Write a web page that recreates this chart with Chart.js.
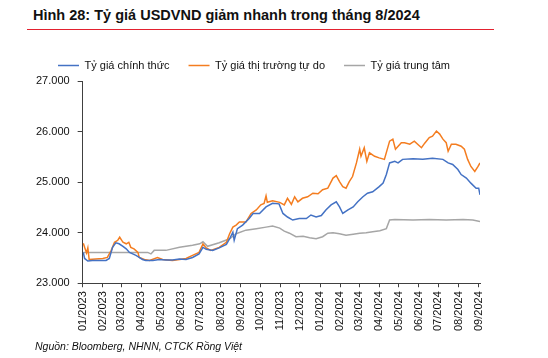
<!DOCTYPE html>
<html lang="vi">
<head>
<meta charset="utf-8">
<title>Tỷ giá USDVND</title>
<script src="https://cdn.jsdelivr.net/npm/chart.js@4.4.1/dist/chart.umd.min.js"></script>
<style>
body { margin:0; background:#fff; }
#khung { position:relative; width:548px; height:358px; overflow:hidden; font-family:'Liberation Sans', Arial, sans-serif; }
#tieude { position:absolute; left:27px; top:7px; width:467px; height:22px; border-bottom:1.5px solid #e3212f; }
#tieude span { position:absolute; left:6px; top:0px; font-size:14.5px; font-weight:bold; color:#111; white-space:nowrap; }
#nguon { position:absolute; left:35px; top:340px; font-size:10.5px; font-style:italic; color:#111; white-space:nowrap; }
canvas { position:absolute; left:0; top:0; }
</style>
</head>
<body>
<div id="khung">
	<div id="tieude"><span>Hình 28: Tỷ giá USDVND giảm nhanh trong tháng 8/2024</span></div>
	<canvas id="line-chart" width="548" height="358"></canvas>
	<div id="nguon">Nguồn: Bloomberg, NHNN, CTCK Rồng Việt</div>
</div>
<script>
// nhãn trục hoành
let nhanThang = ['01/2023','02/2023','03/2023','04/2023','05/2023','06/2023','07/2023','08/2023','09/2023','10/2023','11/2023','12/2023',
	'01/2024','02/2024','03/2024','04/2024','05/2024','06/2024','07/2024','08/2024','09/2024']
let nhanTruc = [23000, 24000, 25000, 26000, 27000]

// Tỷ giá chính thức
let ngayChinhThuc = ['2023-01-02','2023-01-04','2023-01-09','2023-01-16','2023-01-27','2023-02-06','2023-02-11','2023-02-16','2023-02-21','2023-02-26',
	'2023-03-04','2023-03-09','2023-03-14','2023-03-19','2023-03-24','2023-03-29','2023-04-03','2023-04-08','2023-04-19','2023-04-29',
	'2023-05-09','2023-05-19','2023-05-30','2023-06-09','2023-06-19','2023-06-29','2023-07-05','2023-07-10','2023-07-20','2023-07-30',
	'2023-08-10','2023-08-15','2023-08-20','2023-08-22','2023-08-27','2023-09-04','2023-09-14','2023-09-20','2023-09-30','2023-10-10',
	'2023-10-20','2023-10-30','2023-11-05','2023-11-12','2023-11-20','2023-11-30','2023-12-11','2023-12-18','2023-12-26','2024-01-03',
	'2024-01-10','2024-01-18','2024-01-26','2024-01-31','2024-02-05','2024-02-13','2024-02-21','2024-02-28','2024-03-07','2024-03-14',
	'2024-03-22','2024-04-01','2024-04-07','2024-04-12','2024-04-17','2024-04-25','2024-04-30','2024-05-07','2024-05-23','2024-06-07',
	'2024-06-22','2024-07-08','2024-07-16','2024-07-23','2024-07-31','2024-08-05','2024-08-13','2024-08-20','2024-08-28','2024-09-01','2024-09-03']
let chinhThuc = [23610,23490,23440,23450,23450,23450,23490,23710,23800,23780,
	23730,23680,23610,23580,23550,23510,23470,23450,23450,23470,
	23460,23460,23480,23470,23510,23580,23710,23670,23650,23700,
	23770,23880,24010,23850,24080,24150,24280,24380,24380,24510,
	24580,24570,24380,24310,24250,24280,24280,24350,24310,24340,
	24450,24550,24610,24510,24380,24450,24510,24610,24710,24780,
	24810,24910,24980,25150,25380,25410,25380,25450,25460,25450,
	25470,25450,25380,25350,25250,25150,25080,24980,24880,24880,24750]

// Tỷ giá thị trường tự do
let ngayTuDo = ['2023-01-02','2023-01-04','2023-01-07','2023-01-09','2023-01-11','2023-01-21','2023-02-01','2023-02-08','2023-02-14','2023-02-19',
	'2023-02-24','2023-02-27','2023-03-04','2023-03-09','2023-03-13','2023-03-16','2023-03-21','2023-03-27','2023-03-29','2023-04-06',
	'2023-04-14','2023-04-26','2023-05-04','2023-05-19','2023-05-30','2023-06-09','2023-06-19','2023-06-29','2023-07-05','2023-07-10',
	'2023-07-17','2023-07-30','2023-08-10','2023-08-15','2023-08-20','2023-08-25','2023-08-30','2023-09-09','2023-09-17','2023-09-25',
	'2023-10-02','2023-10-07','2023-10-10','2023-10-12','2023-10-20','2023-10-31','2023-11-07','2023-11-12','2023-11-18','2023-11-23',
	'2023-11-28','2023-12-05','2023-12-13','2023-12-21','2023-12-29','2024-01-05','2024-01-13','2024-01-21','2024-01-26','2024-01-31',
	'2024-02-05','2024-02-10','2024-02-15','2024-02-20','2024-02-26','2024-03-02','2024-03-04','2024-03-09','2024-03-13','2024-03-17',
	'2024-03-25','2024-04-01','2024-04-09','2024-04-17','2024-04-22','2024-04-26','2024-05-05','2024-05-10','2024-05-18','2024-05-25',
	'2024-06-05','2024-06-10','2024-06-17','2024-06-22','2024-06-28','2024-07-03','2024-07-08','2024-07-13','2024-07-16','2024-07-21',
	'2024-07-28','2024-08-05','2024-08-10','2024-08-15','2024-08-20','2024-08-26','2024-08-31','2024-09-03']
let tuDo = [23790,23710,23600,23700,23470,23480,23490,23510,23650,23810,
	23850,23910,23810,23780,23810,23710,23680,23610,23510,23470,
	23450,23510,23470,23450,23470,23490,23550,23610,23780,23700,
	23650,23710,23810,23980,24110,24150,24210,24210,24380,24450,
	24550,24580,24730,24600,24630,24600,24550,24680,24560,24710,
	24610,24680,24710,24780,24770,24850,24880,25080,25130,25010,
	24910,24880,25010,25110,25380,25650,25510,25680,25410,25580,
	25510,25480,25450,25810,25850,25650,25780,25780,25750,25810,
	25680,25770,25880,25910,26010,25950,25850,25780,25610,25750,
	25750,25710,25650,25450,25310,25210,25310,25380]

// Tỷ giá trung tâm
let ngayTrungTam = ['2023-01-02','2023-01-21','2023-02-10','2023-03-02','2023-03-22','2023-04-11','2023-04-16','2023-04-21','2023-05-09','2023-05-30',
	'2023-06-19','2023-06-30','2023-07-05','2023-07-12','2023-07-30','2023-08-15','2023-08-25','2023-09-09','2023-09-25','2023-10-10',
	'2023-10-20','2023-10-31','2023-11-07','2023-11-15','2023-11-25','2023-12-06','2023-12-16','2023-12-26','2024-01-05','2024-01-13',
	'2024-01-21','2024-01-31','2024-02-10','2024-02-21','2024-03-02','2024-03-12','2024-03-22','2024-04-02','2024-04-12','2024-04-17',
	'2024-04-25','2024-05-23','2024-06-17','2024-07-13','2024-08-08','2024-08-23','2024-09-03']
let trungTam = [23610,23610,23610,23610,23610,23610,23580,23650,23650,23710,
	23750,23780,23820,23730,23800,23880,23980,24050,24080,24110,
	24130,24090,24030,23990,23920,23930,23900,23880,23920,23990,
	24000,23980,23950,23970,23990,24000,24020,24040,24080,24250,
	24260,24250,24260,24250,24260,24250,24220]

let goc = Date.UTC(2023, 0, 1)
function soNgay(s){
	let p = s.split('-')
	return (Date.UTC(+p[0], +p[1]-1, +p[2]) - goc) / 86400000
}
function thangRaNgay(s){
	let p = s.split('/')
	return (Date.UTC(+p[1], +p[0]-1, 1) - goc) / 86400000
}
function ghep(ngay, giatri){
	return ngay.map((d, i) => ({x: soNgay(d), y: giatri[i]}))
}

let viTriThang = nhanThang.map(thangRaNgay)
let cuoi = soNgay(ngayChinhThuc[ngayChinhThuc.length-1])

function dinhDang(v){
	return String(v).replace(/\B(?=(\d{3})+(?!\d))/g, '.')
}

let chu = {family: "'Liberation Sans', Arial, sans-serif", size: 11}
let mauTruc = '#404040'

new Chart(document.getElementById('line-chart'), {
	type: 'line',
	data: {
		datasets: [{
			label: 'Tỷ giá chính thức',
			data: ghep(ngayChinhThuc, chinhThuc),
			borderColor: '#4472c4',
			backgroundColor: '#4472c4',
			borderWidth: 1.5,
			pointRadius: 0,
			fill: false
		},{
			label: 'Tỷ giá thị trường tự do',
			data: ghep(ngayTuDo, tuDo),
			borderColor: '#f47d20',
			backgroundColor: '#f47d20',
			borderWidth: 1.5,
			pointRadius: 0,
			fill: false
		},{
			label: 'Tỷ giá trung tâm',
			data: ghep(ngayTrungTam, trungTam),
			borderColor: '#a6a6a6',
			backgroundColor: '#a6a6a6',
			borderWidth: 1.5,
			pointRadius: 0,
			fill: false
		}]
	},
	options: {
		responsive: false,
		animation: false,
		layout: {padding: {left: 28, right: 68, top: 41, bottom: 23}},
		plugins: {
			title: {display: false},
			tooltip: {enabled: false},
			legend: {
				position: 'top',
				labels: {
					usePointStyle: true,
					pointStyle: 'line',
					pointStyleWidth: 21,
					padding: 19,
					color: '#111',
					font: chu
				}
			}
		},
		scales: {
			x: {
				type: 'linear',
				min: 0,
				max: cuoi,
				afterBuildTicks(scale){
					scale.ticks = viTriThang.map(v => ({value: v}))
				},
				ticks: {
					autoSkip: false,
					maxRotation: 90,
					minRotation: 90,
					padding: 4,
					color: '#111',
					font: chu,
					callback(v, i){ return nhanThang[i] }
				},
				grid: {drawOnChartArea: false, drawTicks: true, tickLength: 4, color: mauTruc},
				border: {display: true, color: mauTruc, width: 1}
			},
			y: {
				min: 23000,
				max: 27000,
				afterBuildTicks(scale){
					scale.ticks = nhanTruc.map(v => ({value: v}))
				},
				ticks: {
					padding: 8,
					color: '#111',
					font: chu,
					callback(v){ return dinhDang(v) }
				},
				grid: {drawOnChartArea: false, drawTicks: true, tickLength: 5, color: mauTruc},
				border: {display: true, color: mauTruc, width: 1}
			}
		}
	}
});
</script>
</body>
</html>
